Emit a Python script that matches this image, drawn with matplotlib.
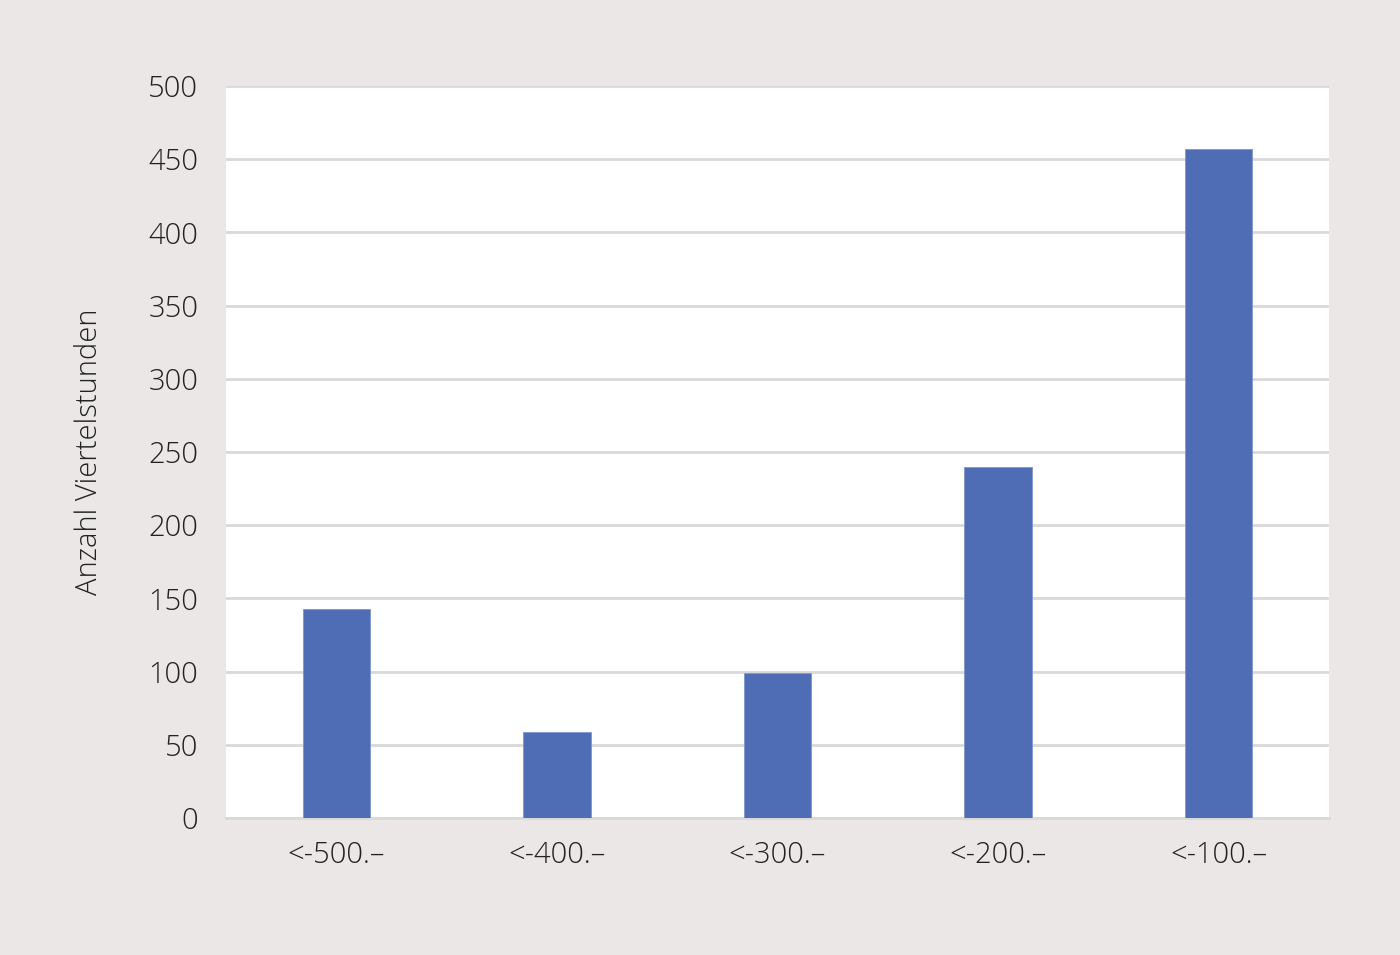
import matplotlib
matplotlib.use("Agg")
import matplotlib.pyplot as plt
import numpy as np

# data
categories = ["<-500.\u2013", "<-400.\u2013", "<-300.\u2013", "<-200.\u2013", "<-100.\u2013"]
counts = [143, 59, 99, 240, 457]
yticks = [0, 50, 100, 150, 200, 250, 300, 350, 400, 450, 500]

bg = "#ebe7e6"
bar_color = "#4f6db4"
grid_color = "#d9d9d9"
text_color = "#222222"

plt.rcParams['font.family'] = ['Open Sans', 'DejaVu Sans']
plt.rcParams['font.weight'] = 'light'

fig = plt.figure(figsize=(14, 9.55), dpi=100, facecolor=bg)
ax = fig.add_axes([226 / 1400, 1 - 818 / 955, (1329 - 226) / 1400, (818 - 86) / 955])
ax.set_facecolor("white")

x = np.arange(len(categories))
ax.bar(x, counts, width=0.305, color=bar_color, edgecolor="#7f97cf", linewidth=0.6, zorder=3)

ax.set_xlim(-0.5, len(categories) - 0.5)
ax.set_ylim(0, 500)
ax.set_yticks(yticks)
ax.set_xticks(x)
ax.set_xticklabels(categories)

ax.grid(axis="y", color=grid_color, linewidth=2, zorder=1)
ax.set_axisbelow(True)
for s in ["left", "right", "top"]:
    ax.spines[s].set_visible(False)
ax.spines["bottom"].set_color(grid_color)
ax.spines["bottom"].set_linewidth(2)

ax.tick_params(axis="both", length=0, labelsize=21, labelcolor=text_color)
ax.tick_params(axis="y", pad=20)
ax.tick_params(axis="x", pad=16)
for lbl in ax.get_xticklabels() + ax.get_yticklabels():
    lbl.set_fontweight('light')
for lbl in ax.get_yticklabels():
    lbl.set_va('center_baseline')

ax.set_ylabel("Anzahl Viertelstunden", fontsize=21, color=text_color,
              fontweight='light', labelpad=32)

fig.savefig("out.png", dpi=100, facecolor=bg)
